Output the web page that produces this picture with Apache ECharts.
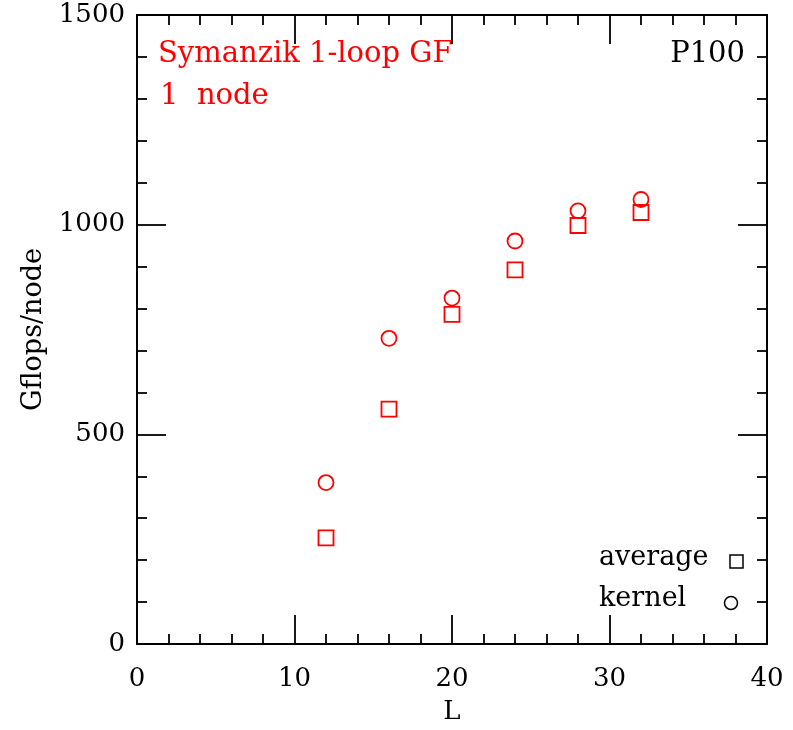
<!DOCTYPE html>
<html>
<head>
<meta charset="utf-8">
<script src="https://cdn.jsdelivr.net/npm/echarts@6/dist/echarts.min.js"></script>
<style>
  html, body { margin: 0; padding: 0; background: #fff; }
  #main { width: 793px; height: 730px; }
</style>
</head>
<body>
<div id="main"></div>
<script>
// lattice size L
const sizes = [12, 16, 20, 24, 28, 32];
// Gflops/node
const average = [253, 560, 786, 892, 998, 1029];
const kernel = [385, 729, 825, 961, 1033, 1060];

const xTicks = { min: 0, max: 40, interval: 10 };
const yTicks = { min: 0, max: 1500, interval: 500 };

const font = "DejaVu Serif";

function pairs(xs, ys) {
  return xs.map((x, i) => [x, ys[i]]);
}

function axisBase(opts, showLabel) {
  return {
    type: "value",
    min: opts.min,
    max: opts.max,
    interval: opts.interval,
    splitLine: { show: false },
    axisLine: { show: true, onZero: false, lineStyle: { color: "#000", width: 2 } },
    axisTick: { show: true, inside: true, length: 29, lineStyle: { color: "#000", width: 1.8 } },
    minorTick: { show: true, splitNumber: 5, length: 10, lineStyle: { color: "#000", width: 1.8 } },
    axisLabel: {
      show: showLabel,
      color: "#000",
      fontFamily: font,
      fontSize: 26,
      formatter: (v) => String(v),
    },
  };
}

const chart = echarts.init(document.getElementById("main"));

const bottomX = axisBase(xTicks, true);
bottomX.position = "bottom";
bottomX.axisLabel.margin = 22;
bottomX.name = "L";
bottomX.nameLocation = "middle";
bottomX.nameGap = 55;
bottomX.nameTextStyle = { color: "#000", fontFamily: font, fontSize: 26 };

const topX = axisBase(xTicks, false);
topX.position = "top";

const leftY = axisBase(yTicks, true);
leftY.position = "left";
leftY.axisLabel.margin = 12;
leftY.name = "Gflops/node";
leftY.nameLocation = "middle";
leftY.nameGap = 84;
leftY.nameTextStyle = { color: "#000", fontFamily: font, fontSize: 27 };

const rightY = axisBase(yTicks, false);
rightY.position = "right";

const option = {
  animation: false,
  backgroundColor: "#fff",
  grid: { left: 137, right: 26, top: 15, bottom: 85 },
  xAxis: [bottomX, topX],
  yAxis: [leftY, rightY],
  series: [
    {
      name: "average",
      type: "scatter",
      symbol: "rect",
      symbolSize: 15,
      data: pairs(sizes, average),
      itemStyle: { color: "rgba(0,0,0,0)", borderColor: "#ff0000", borderWidth: 1.8, opacity: 1 },
    },
    {
      name: "kernel",
      type: "scatter",
      symbol: "circle",
      symbolSize: 15,
      data: pairs(sizes, kernel),
      itemStyle: { color: "rgba(0,0,0,0)", borderColor: "#ff0000", borderWidth: 1.8, opacity: 1 },
    },
  ],
  graphic: [
    {
      type: "text", left: 158, top: 40,
      style: { text: "Symanzik 1-loop GF", fill: "#ff0000", font: "29px '" + font + "'" },
    },
    {
      type: "text", left: 160, top: 82,
      style: { text: "1  node", fill: "#ff0000", font: "29px '" + font + "'" },
    },
    {
      type: "text", right: 48, top: 40,
      style: { text: "P100", fill: "#000", font: "29px '" + font + "'" },
    },
    {
      type: "text", left: 599, top: 544,
      style: { text: "average", fill: "#000", font: "27px '" + font + "'" },
    },
    {
      type: "text", left: 599, top: 585,
      style: { text: "kernel", fill: "#000", font: "27px '" + font + "'" },
    },
    {
      type: "rect", shape: { x: 730, y: 555, width: 13, height: 13 },
      style: { fill: "none", stroke: "#000", lineWidth: 1.5 },
    },
    {
      type: "circle", shape: { cx: 731, cy: 603, r: 6.5 },
      style: { fill: "none", stroke: "#000", lineWidth: 1.5 },
    },
  ],
};

chart.setOption(option);
</script>
</body>
</html>
